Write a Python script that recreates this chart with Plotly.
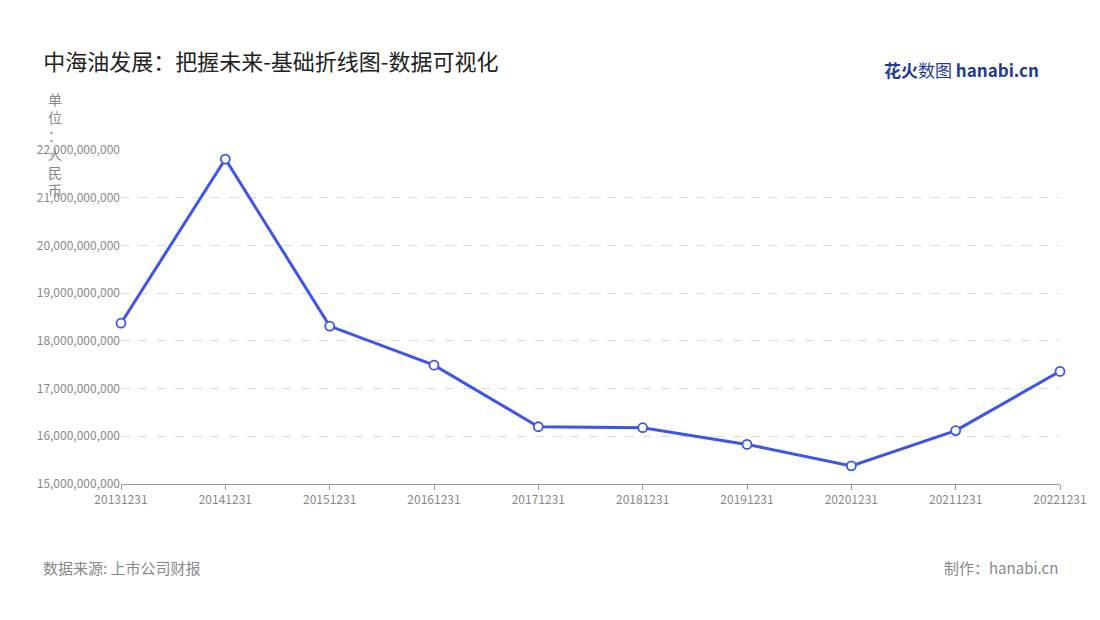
import plotly.graph_objects as go

dates = ["20131231", "20141231", "20151231", "20161231", "20171231",
         "20181231", "20191231", "20201231", "20211231", "20221231"]
values = [18.37e9, 21.81e9, 18.31e9, 17.49e9, 16.20e9,
          16.18e9, 15.83e9, 15.38e9, 16.12e9, 17.36e9]
y_ticks = [15e9 + i * 1e9 for i in range(8)]

blue = "#3d55e8"
font = "Noto Sans CJK SC"

fig = go.Figure()
fig.add_trace(go.Scatter(
    x=dates, y=values, mode="lines+markers",
    line=dict(color=blue, width=3),
    marker=dict(size=9, color="white", line=dict(color=blue, width=1.8)),
    hoverinfo="x+y", cliponaxis=False
))

fig.update_layout(
    width=1100, height=620,
    paper_bgcolor="white", plot_bgcolor="white",
    margin=dict(l=113, r=48, t=142, b=144),
    showlegend=False,
    font=dict(family=font, color="#888"),
    title=dict(text="中海油发展：把握未来-基础折线图-数据可视化",
               x=0.032, y=0.925, xanchor="left",
               font=dict(size=22, color="#222", family=font)),
    xaxis=dict(type="category", range=[0, 9], showline=True, linecolor="#999",
               ticks="outside", ticklen=5, tickcolor="#999",
               tickfont=dict(size=12, color="#888"), showgrid=False),
    yaxis=dict(range=[15e9, 22e9], tickvals=y_ticks, tickformat=",.0f",
               showgrid=True, gridcolor="#ddd", griddash="dash",
               zeroline=False, tickfont=dict(size=12, color="#888")),
)

fig.add_annotation(text="单<br>位<br>：<br>人<br>民<br>币", xref="paper", yref="paper",
                   x=-0.07, y=1.19, xanchor="center", yanchor="top", showarrow=False,
                   font=dict(size=14, color="#888"), align="center")
fig.add_annotation(text="数据来源: 上市公司财报", xref="paper", yref="paper",
                   x=-0.085, y=-0.25, xanchor="left", yanchor="middle", showarrow=False,
                   font=dict(size=15, color="#888"))
fig.add_annotation(text="制作：hanabi.cn", xref="paper", yref="paper",
                   x=1.0, y=-0.25, xanchor="right", yanchor="middle", showarrow=False,
                   font=dict(size=15, color="#888"))
fig.add_annotation(text="<b>花火</b>数图 <b>hanabi.cn</b>", xref="paper", yref="paper",
                   x=0.98, y=1.24, xanchor="right", yanchor="middle", showarrow=False,
                   font=dict(size=17, color="#1f3a93"))

fig.write_html("out.html")
